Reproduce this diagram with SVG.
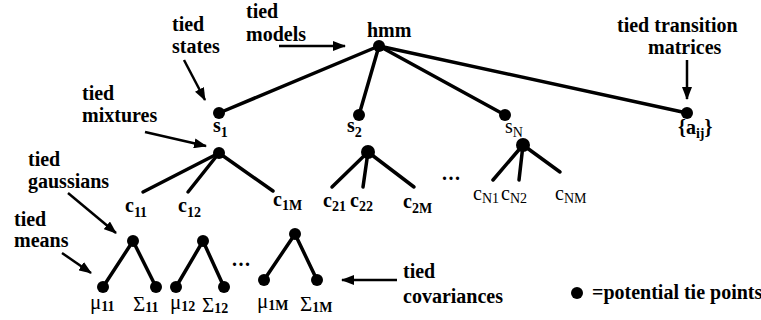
<svg xmlns="http://www.w3.org/2000/svg" width="761" height="320" viewBox="0 0 761 320">
  <style>
    text { font-family: "Liberation Serif", "Times New Roman", serif; fill: #000; }
    .ann { font-size: 20px; font-weight: bold; }
    .lbl { font-size: 20px; font-weight: bold; }
    .reg { font-size: 20px; font-weight: normal; }
    .grk { font-size: 21px; font-weight: normal; }
    .sub { font-size: 14px; font-weight: bold; }
    .subr { font-size: 14px; font-weight: normal; }
    .ell { font-size: 20px; font-weight: bold; letter-spacing: 1.5px; }
    .dot { fill: #000; }
    .edge { stroke: #000; stroke-width: 3.5; fill: none; stroke-linecap: round; }
    .arrow { stroke: #000; stroke-width: 2.5; fill: none; marker-end: url(#head); }
  </style>
  <defs>
    <marker id="head" markerUnits="userSpaceOnUse" markerWidth="13" markerHeight="10" refX="12" refY="5" orient="auto">
      <path d="M0,0 L13,5 L0,10 z" fill="#000"/>
    </marker>
  </defs>
  <rect width="761" height="320" fill="#fff"/>

  <!-- tree edges -->
  <g id="connectors">
    <line class="edge" x1="379" y1="46" x2="219" y2="113"/>
    <line class="edge" x1="379" y1="46" x2="359" y2="115"/>
    <line class="edge" x1="379" y1="46" x2="505" y2="115"/>
    <line class="edge" x1="379" y1="46" x2="687" y2="113"/>

    <line class="edge" x1="219" y1="153" x2="143" y2="192"/>
    <line class="edge" x1="219" y1="153" x2="188" y2="192"/>
    <line class="edge" x1="219" y1="153" x2="273" y2="191"/>

    <line class="edge" x1="368" y1="152" x2="332" y2="187"/>
    <line class="edge" x1="368" y1="152" x2="363" y2="187"/>
    <line class="edge" x1="368" y1="152" x2="414" y2="187"/>

    <line class="edge" x1="523" y1="145" x2="493" y2="180"/>
    <line class="edge" x1="523" y1="145" x2="519" y2="180"/>
    <line class="edge" x1="523" y1="145" x2="560" y2="172"/>

    <line class="edge" x1="133" y1="241" x2="103" y2="287"/>
    <line class="edge" x1="133" y1="241" x2="156" y2="287"/>
    <line class="edge" x1="203" y1="241" x2="176" y2="287"/>
    <line class="edge" x1="203" y1="241" x2="224" y2="287"/>
    <line class="edge" x1="295" y1="234" x2="264" y2="280"/>
    <line class="edge" x1="295" y1="234" x2="317" y2="280"/>
  </g>

  <!-- annotation arrows -->
  <g id="annotation-arrows">
    <line class="arrow" x1="279" y1="46" x2="345" y2="46"/>
    <line class="arrow" x1="184" y1="60" x2="205" y2="100"/>
    <line class="arrow" x1="145" y1="132" x2="206" y2="146"/>
    <line class="arrow" x1="687" y1="60" x2="687" y2="99"/>
    <line class="arrow" x1="68" y1="193" x2="116" y2="233"/>
    <line class="arrow" x1="62" y1="253" x2="91" y2="273"/>
    <line class="arrow" x1="397" y1="280" x2="342" y2="280"/>
  </g>

  <!-- annotations -->
  <g id="annotations">
    <text class="ann" x="246" y="18">tied</text>
    <text class="ann" x="246" y="41">models</text>
    <text class="ann" x="172" y="31">tied</text>
    <text class="ann" x="172" y="53">states</text>
    <text class="ann" x="82" y="100">tied</text>
    <text class="ann" x="82" y="122">mixtures</text>
    <text class="ann" x="28" y="166">tied</text>
    <text class="ann" x="28" y="188">gaussians</text>
    <text class="ann" x="14" y="226">tied</text>
    <text class="ann" x="14" y="247">means</text>
    <text class="ann" x="617" y="32">tied transition</text>
    <text class="ann" x="648" y="54">matrices</text>
    <text class="ann" x="403" y="278">tied</text>
    <text class="ann" x="403" y="303">covariances</text>
  </g>

  <!-- model root -->
  <g id="hmm">
    <circle class="dot" cx="379" cy="46" r="6"/>
    <text class="lbl" x="367" y="37">hmm</text>
  </g>

  <!-- states -->
  <g id="s1">
    <circle class="dot" cx="219" cy="113" r="6"/>
    <text class="lbl" x="213" y="132">s<tspan class="sub" dy="5">1</tspan></text>
  </g>
  <g id="s2">
    <circle class="dot" cx="359" cy="115" r="6"/>
    <text class="lbl" x="347" y="132">s<tspan class="sub" dy="5">2</tspan></text>
  </g>
  <g id="sN">
    <circle class="dot" cx="505" cy="115" r="6"/>
    <text class="reg" x="505" y="133">s<tspan class="subr" dy="4">N</tspan></text>
  </g>
  <g id="aij">
    <circle class="dot" cx="687" cy="113" r="6"/>
    <text class="lbl" x="678" y="134">{a<tspan class="sub" dy="4">ij</tspan><tspan dy="-4">}</tspan></text>
  </g>

  <!-- mixtures -->
  <g id="mix1">
    <circle class="dot" cx="219" cy="153" r="6"/>
  </g>
  <g id="mix2">
    <circle class="dot" cx="368" cy="152" r="7"/>
  </g>
  <g id="mixN">
    <circle class="dot" cx="523" cy="145" r="7"/>
  </g>

  <!-- mixture components -->
  <g id="c11"><text class="lbl" x="125" y="212">c<tspan class="sub" dy="5">11</tspan></text></g>
  <g id="c12"><text class="lbl" x="178" y="212">c<tspan class="sub" dy="5">12</tspan></text></g>
  <g id="c1M"><text class="lbl" x="273" y="206">c<tspan class="sub" dy="4">1M</tspan></text></g>
  <g id="c21"><text class="lbl" x="323" y="207">c<tspan class="sub" dy="4">21</tspan></text></g>
  <g id="c22"><text class="lbl" x="350" y="207">c<tspan class="sub" dy="4">22</tspan></text></g>
  <g id="c2M"><text class="lbl" x="403" y="208">c<tspan class="sub" dy="5">2M</tspan></text></g>
  <text class="ell" x="442" y="180">...</text>
  <g id="cN1"><text class="reg" x="473" y="200">c<tspan class="subr" dy="3">N1</tspan></text></g>
  <g id="cN2"><text class="reg" x="501" y="200">c<tspan class="subr" dy="3">N2</tspan></text></g>
  <g id="cNM"><text class="reg" x="555" y="200">c<tspan class="subr" dy="3">NM</tspan></text></g>

  <!-- gaussians -->
  <g id="g11">
    <circle class="dot" cx="133" cy="241" r="6"/>
  </g>
  <g id="g12">
    <circle class="dot" cx="203" cy="241" r="6"/>
  </g>
  <g id="g1M">
    <circle class="dot" cx="295" cy="234" r="6"/>
  </g>
  <text class="ell" x="232" y="266">...</text>

  <!-- means and covariances -->
  <g id="mu11">
    <circle class="dot" cx="103" cy="287" r="6"/>
    <text class="grk" x="90" y="309">μ<tspan class="sub" dy="2">11</tspan></text>
  </g>
  <g id="sigma11">
    <circle class="dot" cx="156" cy="287" r="6"/>
    <text class="grk" x="133" y="311">Σ<tspan class="sub" dy="1">11</tspan></text>
  </g>
  <g id="mu12">
    <circle class="dot" cx="176" cy="287" r="6"/>
    <text class="grk" x="170" y="309">μ<tspan class="sub" dy="2">12</tspan></text>
  </g>
  <g id="sigma12">
    <circle class="dot" cx="224" cy="287" r="6"/>
    <text class="grk" x="202" y="312">Σ<tspan class="sub" dy="1">12</tspan></text>
  </g>
  <g id="mu1M">
    <circle class="dot" cx="264" cy="280" r="6"/>
    <text class="grk" x="257" y="308">μ<tspan class="sub" dy="2">1M</tspan></text>
  </g>
  <g id="sigma1M">
    <circle class="dot" cx="317" cy="280" r="6"/>
    <text class="grk" x="300" y="311">Σ<tspan class="sub" dy="1">1M</tspan></text>
  </g>

  <!-- legend -->
  <g id="legend">
    <circle class="dot" cx="577" cy="293" r="6"/>
    <text class="ann" x="592" y="299">=potential tie points</text>
  </g>
</svg>
